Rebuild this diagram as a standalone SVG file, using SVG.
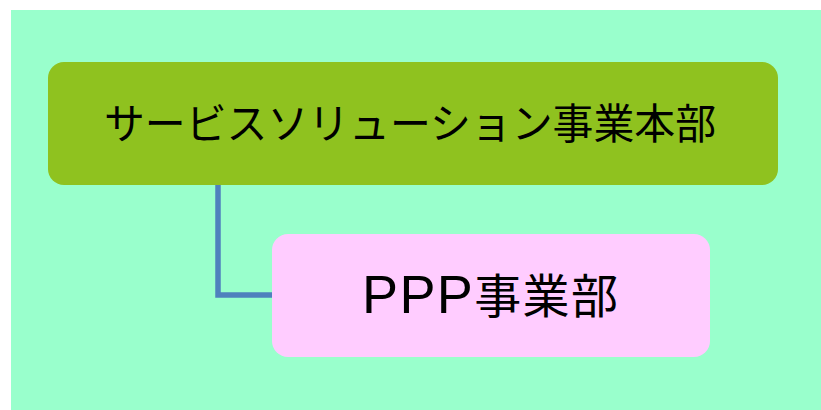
<svg xmlns="http://www.w3.org/2000/svg" width="821" height="410" viewBox="0 0 821 410">
<style>
.t{font-family:"Noto Sans CJK JP","Liberation Sans",sans-serif;fill:#000}
.lat{font-family:"Liberation Sans","Noto Sans CJK JP",sans-serif}
</style>
<rect x="0" y="0" width="821" height="410" fill="#ffffff"/>
<rect x="11" y="10" width="810" height="400" fill="#99ffcc"/>
<g id="connectors">
<path d="M218 185 V295 H272" fill="none" stroke="#4f81bd" stroke-width="5.5"/>
</g>
<g id="node-hq">
<rect x="48" y="62" width="730" height="123" rx="16" fill="#8fc21f"/>
<text class="t" x="104" y="139" font-size="42" textLength="612" lengthAdjust="spacingAndGlyphs">サービスソリューション事業本部</text>
</g>
<g id="node-ppp">
<rect x="272" y="234" width="438" height="123" rx="16" fill="#ffccff"/>
<text class="t" x="362" y="313" font-size="47" textLength="256" lengthAdjust="spacing"><tspan class="lat" font-size="54">PPP</tspan>事業部</text>
</g>
</svg>
